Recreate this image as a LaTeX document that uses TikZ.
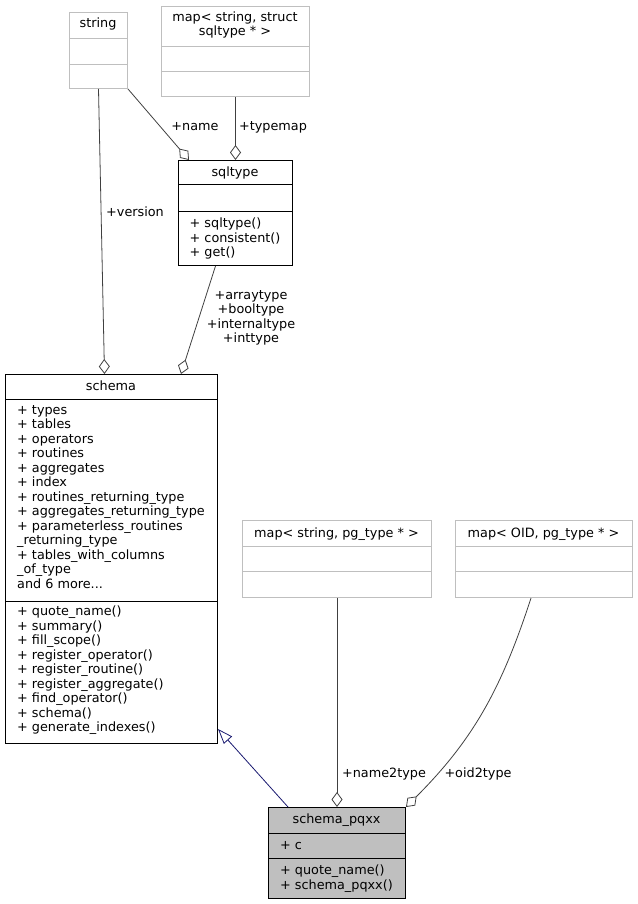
\documentclass[tikz,border=0pt]{standalone}
\usepackage{fontspec}
\setmainfont{DejaVu Sans}
\usetikzlibrary{arrows.meta}

\definecolor{boxgrey}{HTML}{BFBFBF}
\definecolor{edgegrey}{HTML}{404040}
\definecolor{inheritblue}{HTML}{191970}

\begin{document}
\begin{tikzpicture}[x=1pt, y=-1pt,
    every node/.style={font=\fontsize{12.8}{14.5}\selectfont},
    classbox/.style={draw, line width=1pt, anchor=north west, inner sep=0pt},
    extbox/.style={classbox, draw=boxgrey},
    classtitle/.style={anchor=base, align=center, inner sep=0pt},
    member/.style={anchor=base west, align=left, inner sep=0pt},
    edgelabel/.style={align=center, inner sep=0pt},
    usage/.style={draw=edgegrey, line width=0.8pt, -{Diamond[open, length=15pt, width=11pt]}},
    inheritance/.style={draw=inheritblue, line width=0.8pt, -{Triangle[open, length=15pt, width=11pt]}}]
    \useasboundingbox (0,0) rectangle (637,904);

    \node[extbox, minimum width=58pt, minimum height=76pt] (string) at (69,12) {};
    \draw[boxgrey] (string.west |- 0,38) -- (string.east |- 0,38);
    \draw[boxgrey] (string.west |- 0,64) -- (string.east |- 0,64);
    \node[classtitle] (string-title) at (98,28) {string};

    \node[extbox, minimum width=148pt, minimum height=90pt] (typemap) at (161,6) {};
    \draw[boxgrey] (typemap.west |- 0,46) -- (typemap.east |- 0,46);
    \draw[boxgrey] (typemap.west |- 0,71) -- (typemap.east |- 0,71);
    \node[classtitle] (typemap-title) at (235,36) {map< string, struct\\sqltype * >};

    \node[classbox, minimum width=114pt, minimum height=105pt] (sqltype) at (178,160) {};
    \draw[line width=1pt] (sqltype.west |- 0,185) -- (sqltype.east |- 0,185);
    \draw[line width=1pt] (sqltype.west |- 0,211) -- (sqltype.east |- 0,211);
    \node[classtitle] (sqltype-title) at (235,176.5) {sqltype};
    \node[member] (sqltype-methods) at (189.5,256.5) {+ sqltype()\\+ consistent()\\+ get()};

    \node[classbox, minimum width=212pt, minimum height=369pt] (schema) at (5,374) {};
    \draw[line width=1pt] (schema.west |- 0,399) -- (schema.east |- 0,399);
    \draw[line width=1pt] (schema.west |- 0,601) -- (schema.east |- 0,601);
    \node[classtitle] (schema-title) at (111,390) {schema};
    \node[member] (schema-fields) at (17,588) {+ types\\+ tables\\+ operators\\+ routines\\+ aggregates\\+ index\\+ routines\_returning\_type\\+ aggregates\_returning\_type\\+ parameterless\_routines\\\_returning\_type\\+ tables\_with\_columns\\\_of\_type\\and 6 more...};
    \node[member] (schema-methods) at (17,731.5) {+ quote\_name()\\+ summary()\\+ fill\_scope()\\+ register\_operator()\\+ register\_routine()\\+ register\_aggregate()\\+ find\_operator()\\+ schema()\\+ generate\_indexes()};

    \node[extbox, minimum width=189pt, minimum height=77pt] (name2type) at (242,520) {};
    \draw[boxgrey] (name2type.west |- 0,546) -- (name2type.east |- 0,546);
    \draw[boxgrey] (name2type.west |- 0,571) -- (name2type.east |- 0,571);
    \node[classtitle] (name2type-title) at (336.5,537.5) {map< string, pg\_type * >};

    \node[extbox, minimum width=177pt, minimum height=77pt] (oid2type) at (455,520) {};
    \draw[boxgrey] (oid2type.west |- 0,546) -- (oid2type.east |- 0,546);
    \draw[boxgrey] (oid2type.west |- 0,571) -- (oid2type.east |- 0,571);
    \node[classtitle] (oid2type-title) at (543.5,537.5) {map< OID, pg\_type * >};

    \node[classbox, fill=boxgrey, minimum width=137pt, minimum height=91pt] (schemapqxx) at (268,807) {};
    \draw[line width=1pt] (schemapqxx.west |- 0,833) -- (schemapqxx.east |- 0,833);
    \draw[line width=1pt] (schemapqxx.west |- 0,858) -- (schemapqxx.east |- 0,858);
    \node[classtitle] (schemapqxx-title) at (336.5,823.5) {schema\_pqxx};
    \node[member] (schemapqxx-fields) at (280,849.5) {+ c};
    \node[member] (schemapqxx-methods) at (280,889) {+ quote\_name()\\+ schema\_pqxx()};

    \draw[usage] (string.south) -- ([xshift=-7pt]schema.north);
    \draw[usage] (string.south east) -- ([xshift=11pt]sqltype.north west);
    \draw[usage] (typemap.south) -- (sqltype.north);
    \draw[usage] ([xshift=-20pt]sqltype.south) -- ([xshift=-37pt]schema.north east);
    \draw[inheritance] ([xshift=20pt]schemapqxx.north west) -- ([yshift=15pt]schema.south east);
    \draw[usage] (name2type.south) -- (schemapqxx.north);
    \draw[usage] ([xshift=-13pt]oid2type.south) to[out=-108, in=45] (schemapqxx.north east);

    \node[edgelabel] (version-label) at (135,212) {+version};
    \node[edgelabel] (name-label) at (195,127) {+name};
    \node[edgelabel] (typemap-label) at (273,127) {+typemap};
    \node[edgelabel] (types-label) at (251,318) {+arraytype\\+booltype\\+internaltype\\+inttype};
    \node[edgelabel] (name2type-label) at (384,774) {+name2type};
    \node[edgelabel] (oid2type-label) at (478,774) {+oid2type};
\end{tikzpicture}
\end{document}
